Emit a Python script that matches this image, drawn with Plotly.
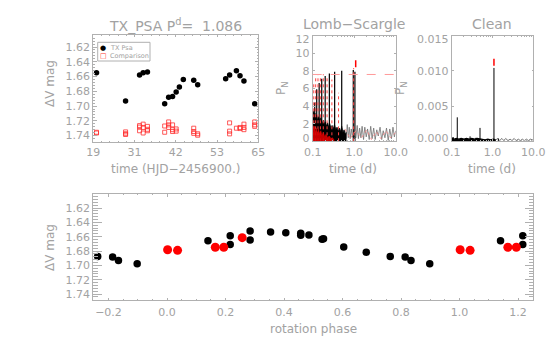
import plotly.graph_objects as go

# ---------------- data ----------------
PERIOD = 1.086

# light curve (top-left)
TIME_STAR = [19.9, 28.0, 31.9, 32.9, 34.1, 38.9, 40.0, 41.1, 42.1, 43.0,
             44.1, 47.0, 48.1, 55.9, 57.0, 58.9, 59.9, 61.0, 64.0]
MAG_STAR = [1.655, 1.693, 1.658, 1.655, 1.654, 1.697, 1.688, 1.687, 1.681, 1.674,
            1.664, 1.665, 1.671, 1.663, 1.658, 1.652, 1.659, 1.666, 1.697]
TIME_COMP = [19.9, 19.9, 28.0, 28.0, 28.0, 31.9, 31.9, 31.9, 32.9, 32.9, 32.9,
             34.1, 34.1, 34.1, 38.9, 38.9, 40.0, 40.0, 40.0, 41.1, 41.1, 41.1,
             42.1, 42.1, 47.0, 47.0, 47.0, 48.1, 48.1, 57.0, 57.0, 57.0, 58.9,
             59.9, 59.9, 61.0, 61.0, 61.0, 64.0, 64.0, 64.0]
MAG_COMP = [1.7355, 1.7365, 1.7350, 1.7375, 1.7385, 1.7265, 1.7285, 1.7335,
            1.7245, 1.7290, 1.7365, 1.7275, 1.7315, 1.7335, 1.7270, 1.7355,
            1.7215, 1.7255, 1.7290, 1.7255, 1.7320, 1.7345, 1.7310, 1.7340,
            1.7300, 1.7345, 1.7370, 1.7375, 1.7395, 1.7228, 1.7340, 1.7377,
            1.7300, 1.7290, 1.7305, 1.7245, 1.7290, 1.7320, 1.7215, 1.7255, 1.7275]
TL_XTICKS = [19, 30.5, 42, 53.5, 65]
TL_XTICK_LABELS = ["19", "31", "42", "53", "65"]
MAG_TICKS = [1.62, 1.64, 1.66, 1.68, 1.70, 1.72, 1.74]

# Lomb-Scargle periodogram
LS_ENV_P = [0.100, 0.103, 0.106, 0.109, 0.113, 0.117, 0.121, 0.126, 0.131, 0.137,
            0.143, 0.150, 0.157, 0.165, 0.174, 0.183, 0.193, 0.204, 0.216, 0.229,
            0.243, 0.258, 0.275, 0.293, 0.313, 0.335, 0.360, 0.385, 0.410, 0.440,
            0.470, 0.500, 0.535, 0.570, 0.610, 0.650]
LS_ENV_H = [3.6, 2.8, 3.4, 2.6, 3.2, 2.5, 3.0, 2.9, 2.3, 2.8,
            2.6, 2.2, 2.7, 2.4, 2.0, 2.4, 1.9, 2.2, 1.7, 2.1,
            1.6, 2.0, 1.5, 1.8, 1.4, 1.9, 1.3, 1.6, 1.2, 1.5,
            1.1, 1.7, 1.0, 1.3, 0.8, 1.0]
LS_TAIL_P = [0.60, 0.64, 0.68, 0.72, 0.76, 0.80, 0.85, 0.90, 1.00, 1.10, 1.18, 1.26,
             1.35, 1.45, 1.55, 1.68, 1.80, 1.95, 2.10, 2.30, 2.50, 2.70, 2.95, 3.20,
             3.50, 3.80, 4.20, 4.60, 5.00, 5.50, 6.00, 6.60, 7.20, 7.90, 8.60, 9.30, 10.0]
LS_TAIL_H = [1.2, 0.3, 1.9, 0.4, 1.6, 0.3, 1.4, 0.5, 0.6, 0.4, 1.8, 0.3,
             1.5, 0.4, 1.7, 0.2, 1.6, 0.5, 1.4, 0.2, 1.7, 0.3, 1.5, 0.2,
             1.3, 0.6, 1.6, 0.2, 1.2, 0.4, 1.5, 0.1, 1.4, 0.3, 1.6, 0.5, 1.2]
LS_SPIKE_P = [0.112, 0.125, 0.143, 0.165, 0.200, 0.252, 0.338, 0.500, 0.950, 1.040]
LS_SPIKE_H = [4.4, 5.9, 6.6, 7.1, 7.4, 7.7, 7.9, 8.0, 8.1, 7.9]
LS_RED_P = [0.106, 0.118, 0.134, 0.153, 0.180, 0.222, 0.290, 0.420, 0.970]
LS_RED_H = [6.8, 7.3, 7.5, 7.2, 7.6, 7.4, 7.0, 5.5, 8.3]
LS_REDFILL_P = [0.100, 0.105, 0.110, 0.116, 0.122, 0.130, 0.138, 0.147, 0.157,
                0.168, 0.180, 0.195, 0.210, 0.230, 0.250, 0.275, 0.300, 0.330]
LS_REDFILL_H = [1.9, 1.2, 1.7, 1.0, 1.5, 0.9, 1.4, 0.8, 1.2,
                0.6, 1.0, 0.5, 0.8, 0.4, 0.6, 0.3, 0.4, 0.1]
LS_REDTAIL_P = [0.6, 0.8, 1.1, 1.5, 2.0, 2.6, 3.4, 4.4, 5.8, 7.5, 10.0]
LS_REDTAIL_H = [1.4, 0.3, 1.2, 0.4, 1.3, 0.2, 1.1, 0.3, 1.2, 0.4, 1.0]
LS_SIG = 7.58
LS_PEAK_MARK = 8.8
LS_YTICKS = [0, 2, 4, 6, 8, 10, 12]
LS_YLABEL_POS = [0.37, 2, 4, 6, 8, 10, 11.57]      # end labels sit slightly inside
LS_YLABELS = ["0", "2", "4", "6", "8", "10", "12"]

# CLEAN periodogram
CLEAN_BASE_P = [0.100, 0.115, 0.130, 0.150, 0.170, 0.200, 0.230, 0.270, 0.310,
                0.360, 0.420, 0.490, 0.570, 0.660, 0.770, 0.900, 1.050, 1.200]
CLEAN_BASE_H = [0.0005, 0.0003, 0.0004, 0.0003, 0.0004, 0.0003, 0.0004, 0.0003, 0.0004,
                0.0003, 0.0004, 0.0003, 0.0003, 0.0002, 0.0003, 0.0002, 0.0003, 0.0002]
CLEAN_TAIL_P = [1.2, 1.35, 1.5, 1.7, 1.9, 2.1, 2.4, 2.7, 3.0, 3.4,
                3.8, 4.3, 4.8, 5.4, 6.0, 6.8, 7.6, 8.5, 9.5, 10.0]
CLEAN_TAIL_H = [0.0002, 0.0004, 0.0001, 0.0004, 0.0001, 0.0004, 0.0001, 0.0003, 0.0001, 0.0004,
                0.0001, 0.0003, 0.0001, 0.0003, 0.0001, 0.0003, 0.0001, 0.0003, 0.0002, 0.0003]
CLEAN_SPIKE_P = [0.109, 0.137, 0.224, 0.282, 0.330, 0.395, 0.494, 1.086, 1.39]
CLEAN_SPIKE_H = [0.0006, 0.0034, 0.0004, 0.0007, 0.0004, 0.0005, 0.0019, 0.0104, 0.0004]
CLEAN_PEAK_MARK = 0.0112
CLEAN_YTICKS = [0.0, 0.005, 0.010, 0.015]
CLEAN_YLABEL_POS = [0.00047, 0.005, 0.010, 0.01446]
CLEAN_YLABELS = ["0.000", "0.005", "0.010", "0.015"]

# phased light curve (base phases in [0,1))
PHASE_BLACK = [0.140, 0.216, 0.216, 0.284, 0.284, 0.354, 0.406, 0.457, 0.457,
               0.485, 0.530, 0.535, 0.604, 0.681, 0.763, 0.814, 0.834, 0.898]
MAG_BLACK = [1.6657, 1.6588, 1.6708, 1.6520, 1.6646, 1.6534, 1.6544, 1.6553, 1.6580,
             1.6576, 1.6636, 1.6628, 1.6744, 1.6818, 1.6876, 1.6882, 1.6933, 1.6976]
PHASE_RED = [0.002, 0.036, 0.165, 0.194, 0.257]
MAG_RED = [1.6782, 1.6790, 1.6748, 1.6748, 1.6614]
PHASE_RANGE = [-0.252, 1.252]
PHASE_TICKS = [-0.2, 0.0, 0.2, 0.4, 0.6, 0.8, 1.0, 1.2]

# ---------------- styling ----------------
W, H = 550, 354
TXT = "#a2a2a2"
AX = "#b0b0b0"
FONT = "DejaVu Sans"


def fx(p):
    return p / W


def fy(p):
    return 1 - p / H


def stems(ps, hs):
    xs, ys = [], []
    for p, h in zip(ps, hs):
        xs += [p, p, None]
        ys += [0, h, None]
    return xs, ys


def fold(phases, mags, lo, hi):
    xs, ys = [], []
    for shift in (-1, 0, 1):
        for p, m in zip(phases, mags):
            if lo <= p + shift <= hi:
                xs.append(p + shift)
                ys.append(m)
    return xs, ys


def axis(domain, anchor, ticklen, minor=None, **kw):
    d = dict(domain=domain, anchor=anchor, showline=True, linecolor=AX, linewidth=1,
             mirror="ticks", ticks="inside", ticklen=ticklen, tickcolor=AX,
             showgrid=False, zeroline=False, automargin=False,
             tickfont=dict(family=FONT, size=11, color=TXT))
    if minor is not None:
        m = dict(ticks="inside", tickcolor=AX, ticklen=max(ticklen / 2, 1), showgrid=False)
        m.update(minor)
        d["minor"] = m
    d.update(kw)
    return d


fig = go.Figure()

# top-left light curve
fig.add_trace(go.Scatter(x=TIME_COMP, y=MAG_COMP, mode="markers", xaxis="x", yaxis="y",
                         marker=dict(symbol="square-open", size=4, color="#ff3030",
                                     line=dict(width=0.8, color="#ff3030")),
                         name="Comparison", showlegend=False))
fig.add_trace(go.Scatter(x=TIME_STAR, y=MAG_STAR, mode="markers", xaxis="x", yaxis="y",
                         marker=dict(symbol="circle", size=5.5, color="black"),
                         name="TX Psa", showlegend=False))

# Lomb-Scargle
fig.add_trace(go.Scatter(x=LS_TAIL_P, y=LS_TAIL_H, mode="lines", xaxis="x2", yaxis="y2",
                         line=dict(color="#707070", width=0.8), showlegend=False))
fig.add_trace(go.Scatter(x=LS_ENV_P, y=LS_ENV_H, mode="lines", xaxis="x2", yaxis="y2",
                         fill="tozeroy", fillcolor="black",
                         line=dict(color="black", width=0.8), showlegend=False))
sx, sy = stems(LS_SPIKE_P, LS_SPIKE_H)
fig.add_trace(go.Scatter(x=sx, y=sy, mode="lines", xaxis="x2", yaxis="y2",
                         line=dict(color="black", width=1.2), showlegend=False))
rx, ry = stems(LS_RED_P, LS_RED_H)
fig.add_trace(go.Scatter(x=rx, y=ry, mode="lines", xaxis="x2", yaxis="y2",
                         line=dict(color="#ff4040", width=1, dash="dot"), showlegend=False))
fig.add_trace(go.Scatter(x=LS_REDTAIL_P, y=LS_REDTAIL_H, mode="lines", xaxis="x2", yaxis="y2",
                         line=dict(color="#ff8080", width=0.8, dash="dot"), showlegend=False))
fig.add_trace(go.Scatter(x=LS_REDFILL_P, y=LS_REDFILL_H, mode="lines", xaxis="x2", yaxis="y2",
                         fill="tozeroy", fillcolor="rgba(220,0,0,0.9)",
                         line=dict(color="#dd0000", width=0.6), showlegend=False))
fig.add_trace(go.Scatter(x=[PERIOD], y=[LS_PEAK_MARK], mode="markers", xaxis="x2", yaxis="y2",
                         marker=dict(symbol="line-ns", size=5, line=dict(color="red", width=1.5)),
                         showlegend=False))

# CLEAN
fig.add_trace(go.Scatter(x=CLEAN_TAIL_P, y=CLEAN_TAIL_H, mode="lines", xaxis="x3", yaxis="y3",
                         line=dict(color="#505050", width=0.8), showlegend=False))
fig.add_trace(go.Scatter(x=CLEAN_BASE_P, y=CLEAN_BASE_H, mode="lines", xaxis="x3", yaxis="y3",
                         fill="tozeroy", fillcolor="black",
                         line=dict(color="black", width=1.2), showlegend=False))
cx, cy = stems(CLEAN_SPIKE_P, CLEAN_SPIKE_H)
fig.add_trace(go.Scatter(x=cx, y=cy, mode="lines", xaxis="x3", yaxis="y3",
                         line=dict(color="black", width=1), showlegend=False))
fig.add_trace(go.Scatter(x=[PERIOD], y=[CLEAN_PEAK_MARK], mode="markers", xaxis="x3", yaxis="y3",
                         marker=dict(symbol="line-ns", size=5, line=dict(color="red", width=1.5)),
                         showlegend=False))

# phased curve
bx, by = fold(PHASE_BLACK, MAG_BLACK, *PHASE_RANGE)
fig.add_trace(go.Scatter(x=bx, y=by, mode="markers", xaxis="x4", yaxis="y4",
                         marker=dict(symbol="circle", size=7.5, color="black"), showlegend=False))
qx, qy = fold(PHASE_RED, MAG_RED, *PHASE_RANGE)
fig.add_trace(go.Scatter(x=qx, y=qy, mode="markers", xaxis="x4", yaxis="y4",
                         marker=dict(symbol="circle", size=9, color="red"), showlegend=False))

top_dom = [fy(142), fy(35)]
per_dom = [fy(141.3), fy(35.5)]
bot_dom = [fy(300), fy(194.3)]
log_minor = [0.2, 0.3, 0.4, 0.5, 0.6, 0.7, 0.8, 0.9, 2, 3, 4, 5, 6, 7, 8, 9]

fig.update_layout(
    width=W, height=H, autosize=False,
    margin=dict(l=0, r=0, t=0, b=0, pad=0, autoexpand=False),
    paper_bgcolor="white", plot_bgcolor="white",
    showlegend=False,
    font=dict(family=FONT, color=TXT),
    xaxis=axis([fx(93.3), fx(258.3)], "y", 2.2, minor=dict(dtick=2.3, tick0=19),
               range=[19, 65], tickvals=TL_XTICKS, ticktext=TL_XTICK_LABELS,
               ticklabelstandoff=0),
    yaxis=axis(top_dom, "x", 3.3, minor=dict(dtick=0.004, tick0=1.6),
               range=[1.7487, 1.6037], tickvals=MAG_TICKS, tickformat=".2f"),
    xaxis2=axis([fx(312.7), fx(395.7)], "y2", 2.2, minor=dict(tickvals=log_minor),
                type="log", range=[-1, 1], tickvals=[0.1, 1, 10],
                ticktext=["0.1", "1.0", "10.0"], ticklabelstandoff=0),
    yaxis2=axis(per_dom, "x2", 0, minor=dict(tickvals=LS_YTICKS, ticklen=1.8),
                range=[0, 12], tickvals=LS_YLABEL_POS, ticktext=LS_YLABELS),
    xaxis3=axis([fx(451.7), fx(533.3)], "y3", 2.2, minor=dict(tickvals=log_minor),
                type="log", range=[-1, 1], tickvals=[0.1, 1, 10],
                ticktext=["0.1", "1.0", "10.0"], ticklabelstandoff=0),
    yaxis3=axis(per_dom, "x3", 0, minor=dict(tickvals=CLEAN_YTICKS, ticklen=1.8),
                range=[0, 0.015], tickvals=CLEAN_YLABEL_POS, ticktext=CLEAN_YLABELS),
    xaxis4=axis([fx(93.3), fx(533.3)], "y4", 2.2, minor=dict(dtick=0.05, tick0=0),
                range=PHASE_RANGE, tickvals=PHASE_TICKS, tickformat=".1f",
                ticklabelstandoff=2),
    yaxis4=axis(bot_dom, "x4", 8.8, minor=dict(dtick=0.004, tick0=1.6),
                range=[1.7483, 1.6009], tickvals=MAG_TICKS, tickformat=".2f"),
)

shapes = [
    dict(type="line", xref="x2 domain", x0=0, x1=1, yref="y2", y0=LS_SIG, y1=LS_SIG,
         line=dict(color="#ff9a9a", width=1, dash="dash")),
    dict(type="rect", xref="paper", yref="paper", x0=fx(97.7), x1=fx(150),
         y0=fy(61), y1=fy(42.3), line=dict(color=AX, width=1)),
]
fig.update_layout(shapes=shapes)


def ann(text, x, y, size=12, angle=0, color=TXT, xanchor="center"):
    return dict(text=text, x=fx(x), y=fy(y), xref="paper", yref="paper", showarrow=False,
                xanchor=xanchor, yanchor="middle", textangle=angle,
                font=dict(family=FONT, size=size, color=color))


anns = [
    ann("TX_PSA P<sup>d</sup>=  1.086", 175.5, 25, size=14),
    ann("Lomb\u2212Scargle", 354, 24, size=14),
    ann("Clean", 492, 24, size=14),
    ann("\u0394V mag", 50, 84, angle=-90),
    ann("\u0394V mag", 50, 248, angle=-90),
    ann("P<sub>N</sub>", 282, 88, angle=-90),
    ann("P<sub>N</sub>", 401, 88, angle=-90),
    ann("time (HJD\u22122456900.)", 175.5, 169),
    ann("time (d)", 353, 169),
    ann("time (d)", 492, 169),
    ann("rotation phase", 313, 329),
    ann("\u25cf", 103, 48.3, size=7, color="black"),
    ann("TX Psa", 107.5, 48.3, size=6.5, xanchor="left"),
    ann("\u25a1", 103, 55.7, size=7, color="#ff3030"),
    ann("Comparison", 107.5, 55.7, size=6.5, xanchor="left"),
]
fig.update_layout(annotations=anns)

fig.write_html("out.html", config={"displayModeBar": False},
               post_script="document.body.style.margin='0';")
